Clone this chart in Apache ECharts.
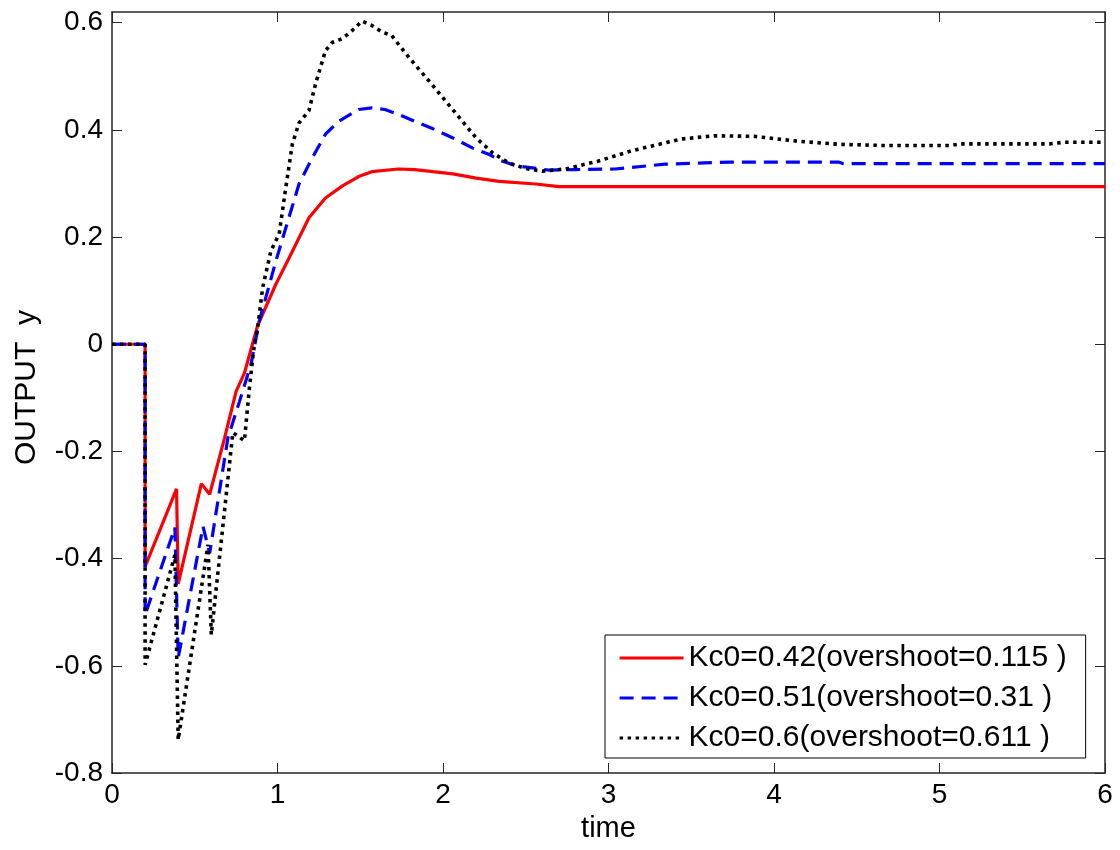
<!DOCTYPE html>
<html>
<head>
<meta charset="utf-8">
<script src="https://cdn.jsdelivr.net/npm/echarts@6/dist/echarts.min.js"></script>
<style>
html,body{margin:0;padding:0;background:#fff;}
#chart{width:1120px;height:850px;}
</style>
</head>
<body>
<div id="chart"></div>
<script>
// ---- data ----
const xTicks = [0, 1, 2, 3, 4, 5, 6];
const yTicks = [-0.8, -0.6, -0.4, -0.2, 0, 0.2, 0.4, 0.6];

const seriesNames = [
  'Kc0=0.42(overshoot=0.115 )',
  'Kc0=0.51(overshoot=0.31 )',
  'Kc0=0.6(overshoot=0.611 )'
];

const tRed = [0, 0.2, 0.2, 0.39, 0.40, 0.54, 0.59, 0.68, 0.75, 0.80, 0.88, 0.99, 1.07, 1.19, 1.29, 1.39, 1.49, 1.57, 1.73, 1.83, 1.94, 2.06, 2.20, 2.34, 2.56, 2.70, 6.0];
const yRed = [0, 0, -0.415, -0.27, -0.447, -0.26, -0.28, -0.175, -0.088, -0.054, 0.035, 0.112, 0.161, 0.236, 0.273, 0.295, 0.313, 0.322, 0.327, 0.326, 0.322, 0.318, 0.310, 0.304, 0.299, 0.294, 0.294];

const tBlue = [0, 0.2, 0.2, 0.38, 0.40, 0.55, 0.59, 0.70, 0.77, 0.84, 0.89, 0.99, 1.05, 1.13, 1.21, 1.29, 1.37, 1.49, 1.57, 1.65, 1.73, 1.83, 1.94, 2.06, 2.18, 2.28, 2.34, 2.44, 2.64, 2.80, 3.04, 3.34, 3.54, 3.74, 4.39, 4.42, 6.0];
const yBlue = [0, 0, -0.505, -0.342, -0.585, -0.34, -0.39, -0.175, -0.107, -0.037, 0.043, 0.155, 0.217, 0.299, 0.348, 0.392, 0.416, 0.438, 0.441, 0.438, 0.429, 0.416, 0.402, 0.385, 0.366, 0.354, 0.344, 0.333, 0.325, 0.326, 0.327, 0.336, 0.338, 0.34, 0.34, 0.337, 0.337];

const tBlack = [0, 0.2, 0.2, 0.38, 0.40, 0.58, 0.60, 0.73, 0.80, 0.83, 0.86, 0.88, 0.91, 0.96, 1.01, 1.05, 1.09, 1.13, 1.19, 1.23, 1.29, 1.33, 1.39, 1.45, 1.51, 1.57, 1.63, 1.69, 1.80, 1.93, 2.08, 2.20, 2.30, 2.40, 2.50, 2.60, 2.74, 2.94, 3.14, 3.44, 3.64, 3.88, 4.14, 4.40, 4.65, 5.07, 5.13, 5.67, 5.75, 6.0];
const yBlack = [0, 0, -0.598, -0.393, -0.738, -0.374, -0.542, -0.165, -0.18, -0.082, 0.0, 0.03, 0.105, 0.174, 0.206, 0.292, 0.374, 0.413, 0.436, 0.486, 0.548, 0.563, 0.57, 0.585, 0.603, 0.595, 0.583, 0.576, 0.533, 0.486, 0.43, 0.385, 0.357, 0.338, 0.328, 0.323, 0.327, 0.342, 0.361, 0.383, 0.389, 0.388, 0.379, 0.373, 0.371, 0.371, 0.374, 0.374, 0.377, 0.377];

// ---- build ----
const zip = (t, y) => t.map((v, i) => [v, y[i]]);
const FONT = '"Liberation Sans", Arial, sans-serif';
const AX = '#262626';

const chart = echarts.init(document.getElementById('chart'), null, {renderer: 'canvas'});

const isTick = (v, arr) => arr.some(a => Math.abs(a - v) < 1e-6);

const baseX = {
  type: 'value', min: xTicks[0], max: xTicks[xTicks.length - 1], interval: 1,
  splitLine: {show: false},
  axisLine: {show: true, onZero: false, lineStyle: {color: AX, width: 1.5}},
  axisTick: {show: true, inside: true, length: 10, lineStyle: {color: AX, width: 1}}
};
const baseY = {
  type: 'value', min: -0.8, max: 0.62, interval: 0.2,
  splitLine: {show: false},
  axisLine: {show: true, onZero: false, lineStyle: {color: AX, width: 1.5}},
  axisTick: {show: true, inside: true, length: 10, lineStyle: {color: AX, width: 1},
    customValues: yTicks}
};

const option = {
  backgroundColor: '#fff',
  animation: false,
  grid: {left: 112, right: 15, top: 12, bottom: 77, containLabel: false},
  legend: {
    orient: 'vertical', left: 605, top: 635,
    backgroundColor: '#fff', borderColor: '#000', borderWidth: 1, borderRadius: 0,
    padding: [8, 19, 5, 13],
    itemWidth: 64, itemHeight: 14, itemGap: 10,
    itemStyle: {opacity: 0, borderWidth: 0},
    lineStyle: {width: 3.2},
    textStyle: {fontFamily: FONT, fontSize: 30, color: '#000', lineHeight: 30},
    data: seriesNames
  },
  xAxis: [
    Object.assign({}, baseX, {
      position: 'bottom',
      name: 'time', nameLocation: 'middle', nameGap: 41,
      nameTextStyle: {fontFamily: FONT, fontSize: 29, color: '#000'},
      axisLabel: {show: true, margin: 8, fontFamily: FONT, fontSize: 28, color: '#000',
        formatter: v => String(v)}
    }),
    Object.assign({}, baseX, {position: 'top', axisLabel: {show: false}})
  ],
  yAxis: [
    Object.assign({}, baseY, {
      position: 'left',
      name: 'OUTPUT  y', nameLocation: 'middle', nameGap: 70, nameRotate: 90,
      nameTextStyle: {fontFamily: FONT, fontSize: 30, color: '#000', padding: [0, 0, 0, 10]},
      axisLabel: {show: true, margin: 9, fontFamily: FONT, fontSize: 28, color: '#000',
        customValues: yTicks,
        formatter: v => isTick(v, yTicks) ? String(Math.round(v * 10) / 10) : ''}
    }),
    Object.assign({}, baseY, {position: 'right', axisLabel: {show: false}})
  ],
  series: [
    {
      name: seriesNames[0], type: 'line', data: zip(tRed, yRed),
      symbol: 'none', z: 3,
      lineStyle: {color: '#ff0000', width: 3.2, type: 'solid'},
      itemStyle: {color: '#ff0000'}
    },
    {
      name: seriesNames[1], type: 'line', data: zip(tBlue, yBlue),
      symbol: 'none', z: 4,
      lineStyle: {color: '#0000ff', width: 3.2, type: [14, 8]},
      itemStyle: {color: '#0000ff'}
    },
    {
      name: seriesNames[2], type: 'line', data: zip(tBlack, yBlack),
      symbol: 'none', z: 5,
      lineStyle: {color: '#000000', width: 3.6, type: [3.5, 4.5]},
      itemStyle: {color: '#000000'}
    }
  ]
};
chart.setOption(option);
</script>
</body>
</html>
